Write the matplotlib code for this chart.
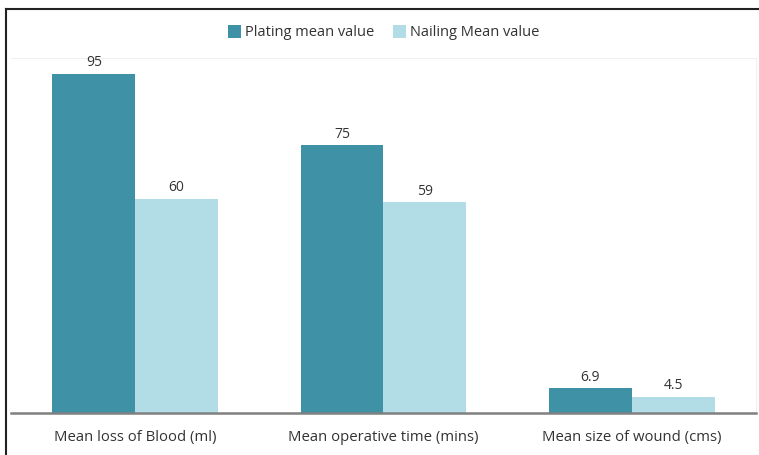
import numpy as np
import matplotlib.pyplot as plt
from matplotlib.lines import Line2D

categories = ["Mean loss of Blood (ml)", "Mean operative time (mins)", "Mean size of wound (cms)"]
plating = [95, 75, 6.9]
nailing = [60, 59, 4.5]
plating_labels = ["95", "75", "6.9"]
nailing_labels = ["60", "59", "4.5"]

plt.rcParams["font.family"] = ["Open Sans", "DejaVu Sans"]

c_plate = "#3f91a6"
c_nail = "#b3dde6"

fig = plt.figure(figsize=(7.59, 4.55), dpi=100)
ax = fig.add_axes([11 / 759, 42 / 455, 745 / 759, 355 / 455])

x = np.arange(len(categories))
w = 1 / 3
b1 = ax.bar(x - w / 2, plating, width=w, color=c_plate, label="Plating mean value")
b2 = ax.bar(x + w / 2, nailing, width=w, color=c_nail, label="Nailing Mean value")

for bars, labs in [(b1, plating_labels), (b2, nailing_labels)]:
    for r, t in zip(bars, labs):
        ax.text(r.get_x() + r.get_width() / 2, r.get_height() + 1.0, t,
                ha="center", va="bottom", fontsize=10, color="#333333")

ax.set_xlim(-0.5, 2.5)
ax.set_ylim(0, 99.5)
ax.set_yticks([])
ax.set_xticks(x)
ax.set_xticklabels(categories, fontsize=10.7, color="#333333")
ax.tick_params(axis="x", length=0, pad=12)
# faint plot-area border (top / right)
ax.spines["top"].set_color("#f0f0f0")
ax.spines["right"].set_color("#f0f0f0")
ax.spines["left"].set_visible(False)
ax.spines["bottom"].set_color("#808080")
ax.spines["bottom"].set_linewidth(1.8)

ax.legend(loc="lower center", bbox_to_anchor=(0.5, 1.0), ncol=2, frameon=False,
          fontsize=10.5, handlelength=0.9, handleheight=0.9, handletextpad=0.25,
          columnspacing=1.3, borderaxespad=0.8, labelcolor="#333333")

# outer frame lines (top and left)
fig.add_artist(Line2D([6 / 759, 1], [1 - 9 / 455, 1 - 9 / 455], color="#222222", lw=1.5))
fig.add_artist(Line2D([6 / 759, 6 / 759], [0, 1 - 9 / 455], color="#222222", lw=1.5))

fig.savefig("out.png", dpi=100)
